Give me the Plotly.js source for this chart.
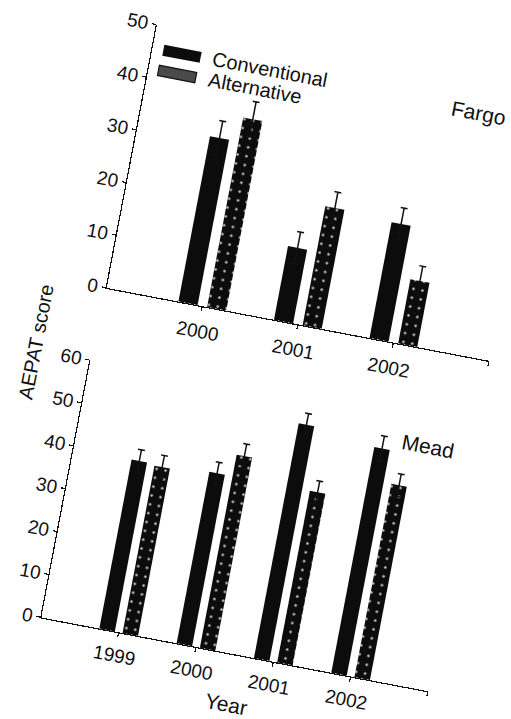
<!DOCTYPE html>
<html>
<head>
<meta charset="utf-8">
<script src="https://cdn.plot.ly/plotly-3.0.1.min.js"></script>
<style>
html, body { margin:0; padding:0; background:#fff; overflow:hidden; width:511px; height:719px; }
#chart { width:511px; height:719px; transform:rotate(10.8deg); transform-origin:50% 50%; }
</style>
</head>
<body>
<div id="chart"></div>
<script>
// ---- data ----
const seriesNames = ['Conventional', 'Alternative'];
const fargoYears = ['2000', '2001', '2002'];
const fargoConv = [31.4, 14.0, 22.0];
const fargoConvErr = [3.2, 3.0, 3.0];
const fargoAlt = [36.0, 22.6, 12.2];
const fargoAltErr = [3.3, 3.0, 2.8];
const meadYears = ['1999', '2000', '2001', '2002'];
const meadConv = [39.4, 40.0, 54.7, 52.6];
const meadConvErr = [2.6, 2.5, 2.6, 2.9];
const meadAlt = [39.0, 45.0, 40.0, 45.1];
const meadAltErr = [2.7, 2.8, 2.6, 2.6];
const fargoTicks = [0, 10, 20, 30, 40, 50];
const meadTicks = [0, 10, 20, 30, 40, 50, 60];
const siteNames = ['Fargo', 'Mead'];
const xTitle = 'Year';
const yTitle = 'AEPAT score';

// ---- helpers ----
const W = 511, H = 719;
const px = v => v / W;
const py = v => (H - v) / H;
const pos = arr => arr.map((_, i) => i + 1);
const FONT = 'Liberation Sans, Arial, Helvetica, sans-serif';
const INK = '#111';

function barTrace(xs, ys, err, isAlt, xa, ya, name) {
  const t = {
    type: 'bar', x: xs, y: ys, xaxis: xa, yaxis: ya, name: name, showlegend: false,
    marker: { color: '#0c0c0c', line: { width: 0 } },
    error_y: { type: 'data', array: err, visible: true, color: INK, thickness: 1.5, width: 3.5 }
  };
  if (isAlt) {
    t.marker.pattern = { shape: '.', bgcolor: '#0c0c0c', fgcolor: '#cfcfcf', size: 9, solidity: 0.06, fillmode: 'replace' };
  }
  return t;
}

const fx = pos(fargoYears), mx = pos(meadYears);
const data = [
  barTrace(fx, fargoConv, fargoConvErr, false, 'x', 'y', seriesNames[0]),
  barTrace(fx, fargoAlt, fargoAltErr, true, 'x', 'y', seriesNames[1]),
  barTrace(mx, meadConv, meadConvErr, false, 'x2', 'y2', seriesNames[0]),
  barTrace(mx, meadAlt, meadAltErr, true, 'x2', 'y2', seriesNames[1])
];

const axisCommon = {
  showline: true, linecolor: INK, linewidth: 1.2, showgrid: false, zeroline: false,
  ticks: 'outside', ticklen: 4, tickwidth: 1.2, tickcolor: INK,
  tickfont: { family: FONT, size: 19, color: INK }, fixedrange: true
};

const layout = {
  width: W, height: H,
  margin: { l: 0, r: 0, t: 0, b: 0 },
  paper_bgcolor: '#fff', plot_bgcolor: 'rgba(0,0,0,0)',
  barmode: 'group', bargap: 0.4, bargroupgap: 0.333,
  showlegend: false,
  xaxis: Object.assign({}, axisCommon, {
    domain: [px(96), px(485)], range: [0, fargoYears.length + 1], anchor: 'y',
    tickmode: 'array', tickvals: pos(fargoYears).concat([fargoYears.length + 1]),
    ticktext: fargoYears.concat(['']), ticklabelstandoff: 4
  }),
  yaxis: Object.assign({}, axisCommon, {
    domain: [py(317), py(49)], range: [0, 50], anchor: 'x',
    tickmode: 'array', tickvals: fargoTicks, ticktext: fargoTicks.map(String)
  }),
  xaxis2: Object.assign({}, axisCommon, {
    domain: [px(93.5), px(487)], range: [0, meadYears.length + 1], anchor: 'y2',
    tickmode: 'array', tickvals: pos(meadYears).concat([meadYears.length + 1]),
    ticktext: meadYears.concat(['']), ticklabelstandoff: 2
  }),
  yaxis2: Object.assign({}, axisCommon, {
    domain: [py(653), py(391)], range: [0, 60], anchor: 'x2',
    tickmode: 'array', tickvals: meadTicks, ticktext: meadTicks.map(String)
  }),
  shapes: [
    { type: 'rect', xref: 'paper', yref: 'paper', x0: px(107), x1: px(145), y0: py(78.5), y1: py(67.5),
      fillcolor: '#0c0c0c', line: { width: 0 } },
    { type: 'rect', xref: 'paper', yref: 'paper', x0: px(106), x1: px(144), y0: py(99), y1: py(88.5),
      fillcolor: '#4a4a4a', line: { width: 1.2, color: INK } }
  ],
  annotations: [
    { xref: 'paper', yref: 'paper', x: px(155), y: py(72), xanchor: 'left', yanchor: 'middle', showarrow: false,
      text: seriesNames[0], font: { family: FONT, size: 20, color: INK } },
    { xref: 'paper', yref: 'paper', x: px(155), y: py(93), xanchor: 'left', yanchor: 'middle', showarrow: false,
      text: seriesNames[1], font: { family: FONT, size: 20, color: INK } },
    { xref: 'paper', yref: 'paper', x: px(428), y: py(76), xanchor: 'center', yanchor: 'middle', showarrow: false,
      text: siteNames[0], font: { family: FONT, size: 21, color: INK } },
    { xref: 'paper', yref: 'paper', x: px(441), y: py(412), xanchor: 'center', yanchor: 'middle', showarrow: false,
      text: siteNames[1], font: { family: FONT, size: 21, color: INK } },
    { xref: 'paper', yref: 'paper', x: px(291), y: py(703), xanchor: 'center', yanchor: 'middle', showarrow: false,
      text: xTitle, font: { family: FONT, size: 21, color: INK } },
    { xref: 'paper', yref: 'paper', x: px(36.6), y: py(383), xanchor: 'center', yanchor: 'middle', showarrow: false,
      textangle: -90, text: yTitle, font: { family: FONT, size: 20, color: INK } }
  ]
};

Plotly.newPlot('chart', data, layout, { displayModeBar: false, staticPlot: true });
</script>
</body>
</html>
